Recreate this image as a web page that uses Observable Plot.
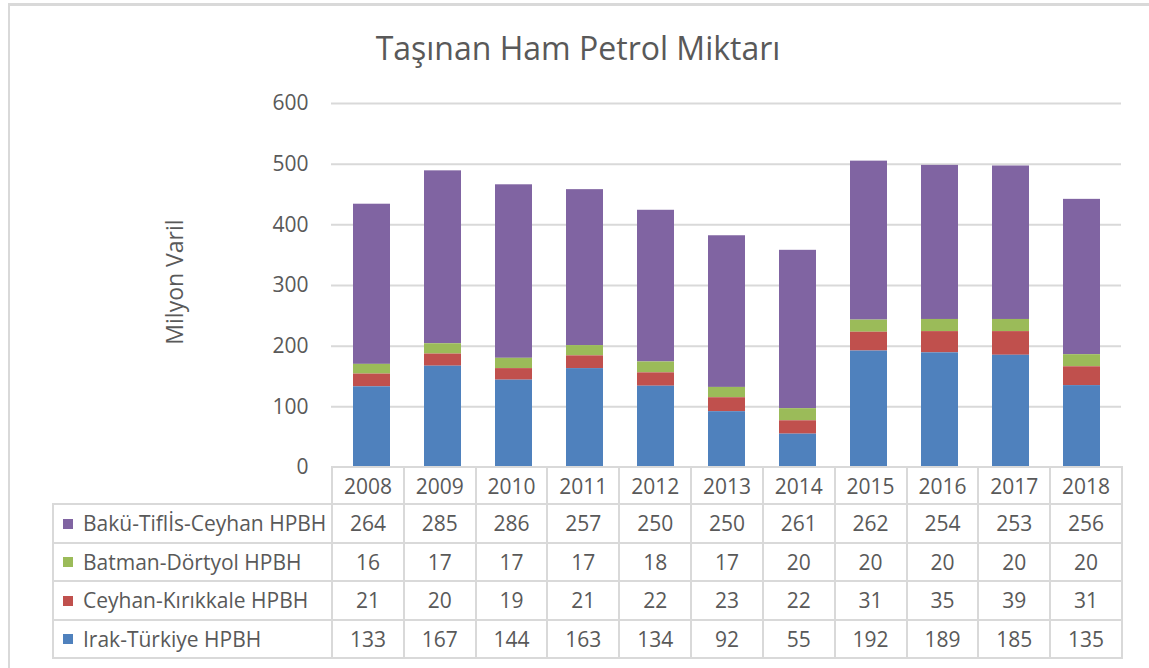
<!DOCTYPE html>
<html><head><meta charset="utf-8">
<script src="https://cdn.jsdelivr.net/npm/d3@7"></script>
<script src="https://cdn.jsdelivr.net/npm/@observablehq/plot@0.6"></script>
<style>
html,body{margin:0;padding:0;background:#fff;overflow:hidden;width:1149px;height:668px;}
body{font-family:"Open Sans",sans-serif;color:#595959;position:relative;}
#frame{position:absolute;left:8px;top:3px;width:1300px;height:800px;border-left:2px solid #d9d9d9;border-top:3px solid #d9d9d9;}
#title{position:absolute;left:0;width:1156px;top:28px;text-align:center;font-size:32px;line-height:40px;}
#ylab{position:absolute;left:174px;top:282px;transform:translate(-50%,-50%) rotate(-90deg);font-size:23px;white-space:nowrap;line-height:26px;}
#chart{position:absolute;left:0;top:0;}
#tbl{position:absolute;left:52px;top:466px;border-collapse:collapse;table-layout:fixed;font-size:21px;color:#595959;}
#tbl td{border:2px solid #d9d9d9;text-align:center;padding:0;white-space:nowrap;overflow:hidden;}
#tbl td.blank{border-top:none;border-left:none;border-bottom-color:#d9d9d9;}
#tbl td.lab{text-align:left;padding-left:9px;}
#tbl .sw{display:inline-block;width:10px;height:10px;margin-right:10px;vertical-align:middle;position:relative;top:-2px;}
</style></head>
<body>
<div id="frame"></div>
<div id="title">Taşınan Ham Petrol Miktarı</div>
<div id="chart"></div>
<div id="ylab">Milyon Varil</div>
<table id="tbl"></table>
<script>
const years = ["2008","2009","2010","2011","2012","2013","2014","2015","2016","2017","2018"];
const seriesNames = ["Bakü-Tiflİs-Ceyhan HPBH","Batman-Dörtyol HPBH","Ceyhan-Kırıkkale HPBH","Irak-Türkiye HPBH"];
const seriesColors = ["#8064A2","#9BBB59","#C0504D","#4F81BD"];
const baku   = [264,285,286,257,250,250,261,262,254,253,256];
const batman = [16,17,17,17,18,17,20,20,20,20,20];
const ceyhan = [21,20,19,21,22,23,22,31,35,39,31];
const irak   = [133,167,144,163,134,92,55,192,189,185,135];
const yTicks = [0,100,200,300,400,500,600];

const valuesBySeries = [baku, batman, ceyhan, irak];
const data = [];
seriesNames.forEach((s, i) => years.forEach((y, j) => data.push({year: y, series: s, value: valuesBySeries[i][j]})));
const stackOrder = seriesNames.slice().reverse();

const chart = Plot.plot({
  width: 1149,
  height: 470,
  marginTop: 103,
  marginBottom: 3,
  marginLeft: 331,
  marginRight: 28,
  style: {fontFamily: '"Open Sans", sans-serif', fontSize: "21px", color: "#595959", background: "transparent", overflow: "visible"},
  x: {domain: years, paddingInner: 0.485, paddingOuter: 0.2425, axis: null},
  y: {domain: [0, 600], axis: null},
  color: {domain: seriesNames, range: seriesColors},
  marks: [
    Plot.ruleY(yTicks.filter(d => d > 0), {stroke: "#d9d9d9", strokeWidth: 2}),
    Plot.barY(data, {x: "year", y: "value", z: "series", fill: "series", order: stackOrder}),
    Plot.axisY(yTicks, {tickSize: 0, tickPadding: 23, label: null, fontSize: 21})
  ]
});
document.getElementById("chart").appendChild(chart);

const tbl = document.getElementById("tbl");
const colg = document.createElement("colgroup");
const c0 = document.createElement("col"); c0.style.width = "279px"; colg.appendChild(c0);
years.forEach(() => { const c = document.createElement("col"); c.style.width = "71.82px"; colg.appendChild(c); });
tbl.appendChild(colg);
const hr = document.createElement("tr"); hr.style.height = "37px";
const blank = document.createElement("td"); blank.className = "blank"; hr.appendChild(blank);
years.forEach(y => { const td = document.createElement("td"); td.textContent = y; hr.appendChild(td); });
tbl.appendChild(hr);
seriesNames.forEach((s, i) => {
  const tr = document.createElement("tr"); tr.style.height = "38.5px";
  const lab = document.createElement("td"); lab.className = "lab";
  const sw = document.createElement("span"); sw.className = "sw"; sw.style.background = seriesColors[i];
  lab.appendChild(sw); lab.appendChild(document.createTextNode(s));
  tr.appendChild(lab);
  valuesBySeries[i].forEach(v => { const td = document.createElement("td"); td.textContent = v; tr.appendChild(td); });
  tbl.appendChild(tr);
});
</script>
</body></html>
